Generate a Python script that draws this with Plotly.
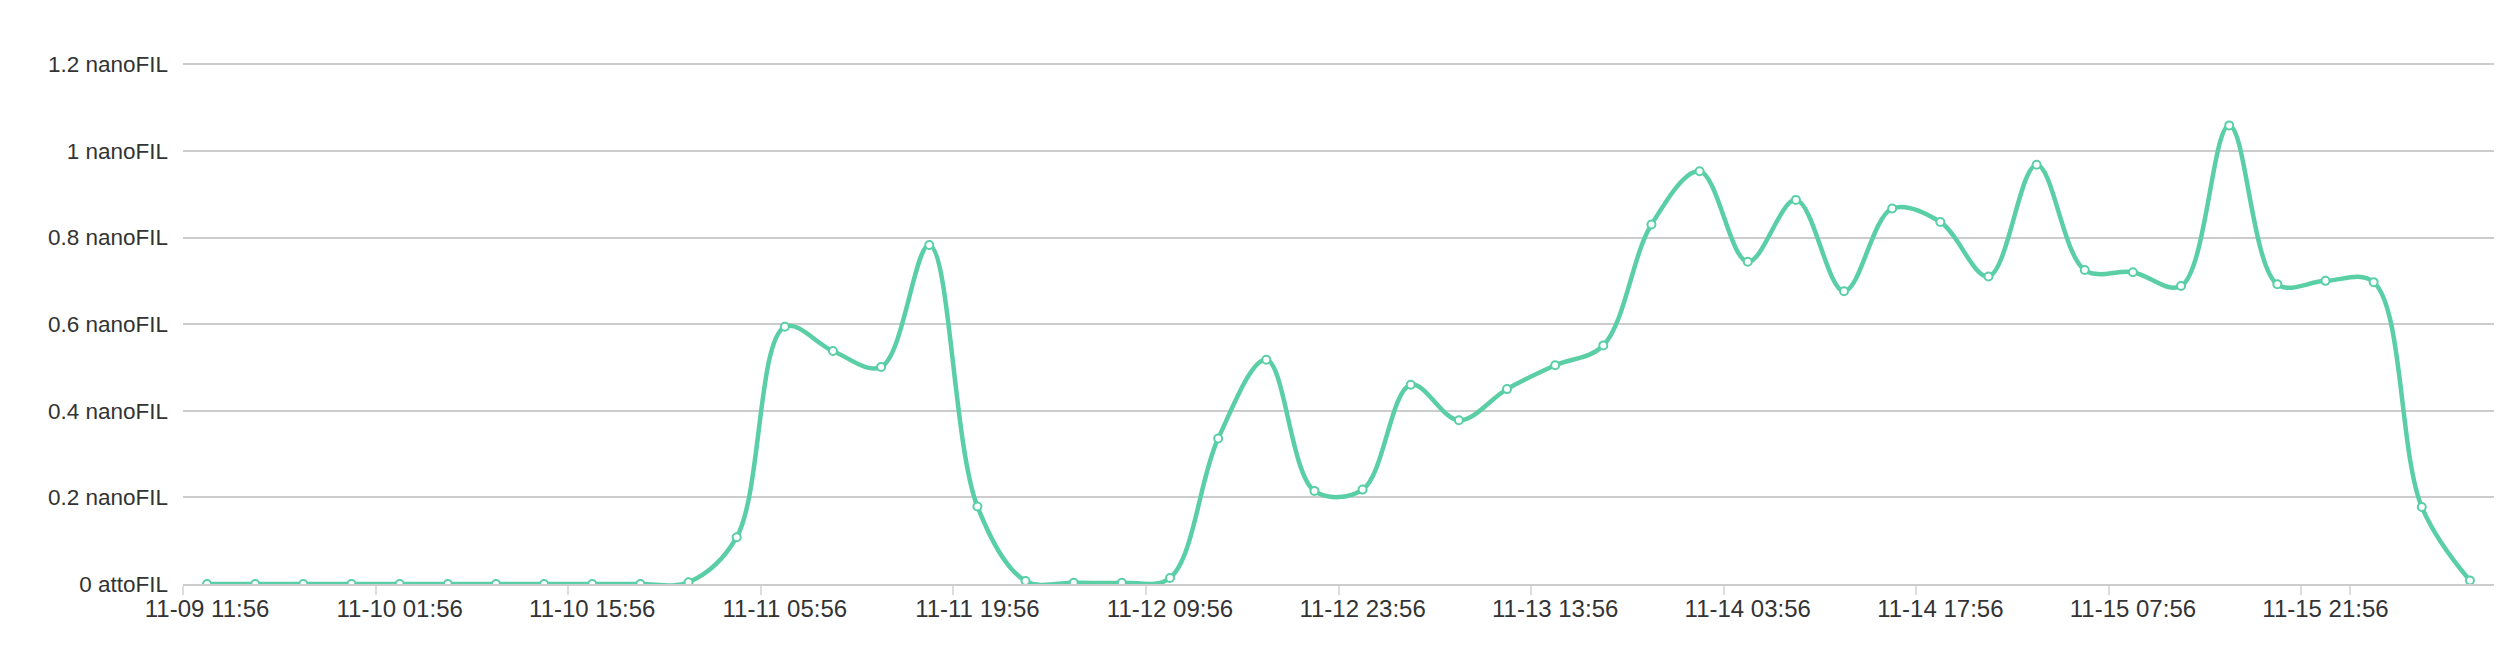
import plotly.graph_objects as go

times = [
    "11-09 11:56", "11-09 15:26", "11-09 18:56", "11-09 22:26",
    "11-10 01:56", "11-10 05:26", "11-10 08:56", "11-10 12:26",
    "11-10 15:56", "11-10 19:26", "11-10 22:56", "11-11 02:26",
    "11-11 05:56", "11-11 09:26", "11-11 12:56", "11-11 16:26",
    "11-11 19:56", "11-11 23:26", "11-12 02:56", "11-12 06:26",
    "11-12 09:56", "11-12 13:26", "11-12 16:56", "11-12 20:26",
    "11-12 23:56", "11-13 03:26", "11-13 06:56", "11-13 10:26",
    "11-13 13:56", "11-13 17:26", "11-13 20:56", "11-14 00:26",
    "11-14 03:56", "11-14 07:26", "11-14 10:56", "11-14 14:26",
    "11-14 17:56", "11-14 21:26", "11-15 00:56", "11-15 04:26",
    "11-15 07:56", "11-15 11:26", "11-15 14:56", "11-15 18:26",
    "11-15 21:56", "11-16 01:26", "11-16 04:56", "11-16 08:26",
]

# values in nanoFIL
values = [
    0.0, 0.0, 0.0, 0.0, 0.0, 0.0, 0.0, 0.0,
    0.0, 0.0, 0.004, 0.108, 0.594, 0.538, 0.501, 0.783,
    0.179, 0.007, 0.003, 0.003, 0.014, 0.336, 0.518, 0.215,
    0.218, 0.460, 0.378, 0.450, 0.505, 0.551, 0.830, 0.953,
    0.744, 0.887, 0.676, 0.867, 0.836, 0.710, 0.968, 0.725,
    0.720, 0.688, 1.059, 0.692, 0.700, 0.697, 0.178, 0.008,
]

x_tick_labels = times[::4]
y_tick_vals = [0, 0.2, 0.4, 0.6, 0.8, 1.0, 1.2]
y_tick_text = ["0 attoFIL", "0.2 nanoFIL", "0.4 nanoFIL", "0.6 nanoFIL",
               "0.8 nanoFIL", "1 nanoFIL", "1.2 nanoFIL"]

GREEN = "#5ACFA6"
FONT = "Liberation Sans, Arial, sans-serif"

fig = go.Figure()
fig.add_trace(go.Scatter(
    x=times, y=values,
    mode="lines+markers",
    line=dict(color=GREEN, width=4.5, shape="spline", smoothing=1.0),
    marker=dict(symbol="circle", size=8, color="white",
                line=dict(color=GREEN, width=2)),
    hoverinfo="x+y",
    showlegend=False,
))

# page body has an 8px margin, so the figure is sized/offset to compensate
fig.update_layout(
    width=2508, height=660,
    margin=dict(l=175, r=22, t=52, b=84, autoexpand=False),
    paper_bgcolor="white", plot_bgcolor="white",
    font=dict(family=FONT, size=23.5, color="#333333"),
)

fig.update_xaxes(
    type="category",
    categoryorder="array", categoryarray=times,
    tickmode="array", tickvals=x_tick_labels, ticktext=x_tick_labels,
    tickson="boundaries", tickangle=0, automargin=False,
    ticks="outside", ticklen=9, tickwidth=2, tickcolor="#dddddd",
    ticklabelstandoff=2,
    showline=True, linecolor="#cccccc", linewidth=2,
    showgrid=False, zeroline=False,
    tickfont=dict(family=FONT, size=24, color="#333333"),
    range=[-0.5, len(times) - 0.5],
)

fig.update_yaxes(
    range=[0, 1.21],
    tickmode="array", tickvals=y_tick_vals, ticktext=y_tick_text,
    showgrid=True, gridcolor="#cccccc", gridwidth=2,
    zeroline=False, showline=False, ticks="", automargin=False,
    ticklabelstandoff=14,
    tickfont=dict(family=FONT, size=22.5, color="#333333"),
)

fig.write_html("out.html")
